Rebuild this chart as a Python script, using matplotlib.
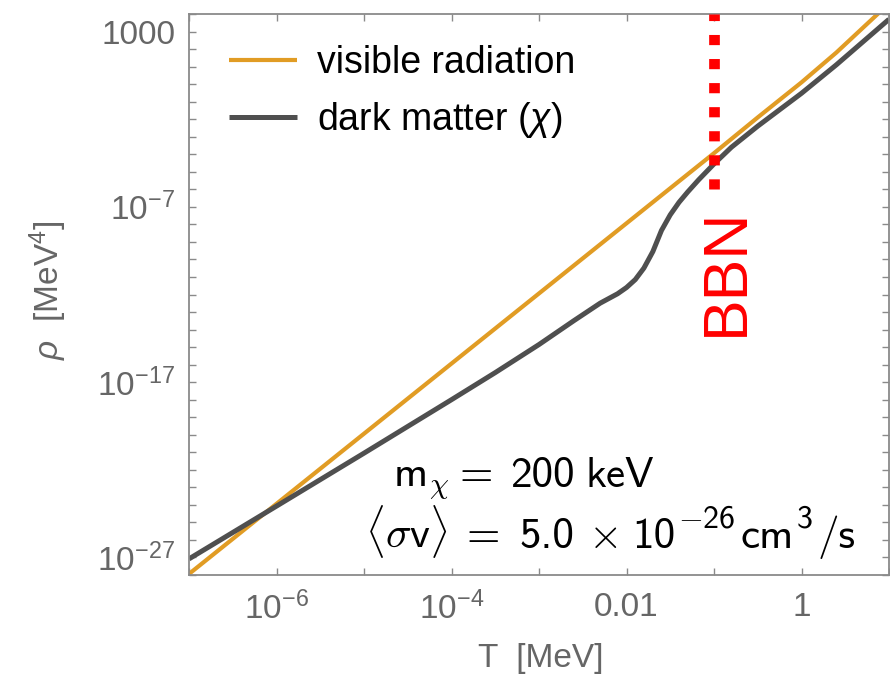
import numpy as np
import matplotlib
matplotlib.use('Agg')
import matplotlib.pyplot as plt
from matplotlib.ticker import FixedLocator, FixedFormatter, NullLocator

plt.rcParams['font.family'] = ['Liberation Sans', 'DejaVu Sans']
plt.rcParams['mathtext.fontset'] = 'custom'
plt.rcParams['mathtext.rm'] = 'Liberation Sans'
plt.rcParams['mathtext.it'] = 'Liberation Sans:italic'
plt.rcParams['mathtext.bf'] = 'Liberation Sans:bold'

# radiacao visivel
T_vis = [1e-7, 1e-4, 0.1, 0.316, 1.0, 2.5, 10.0]
rho_vis = [1.15e-28, 1.15e-16, 1.15e-4, 1.26e-2, 1.26, 63.0, 4.0e4]

# materia escura (chi)
T_dm = [1e-7, 1e-6, 1e-5, 1e-4, 3.16e-4, 1e-3, 2.5e-3, 5.0e-3, 7.9e-3, 0.01,
        0.0126, 0.0158, 0.02, 0.0251, 0.0316, 0.0398, 0.0501, 0.0668, 0.1,
        0.158, 0.316, 1.0, 2.5, 10.0]
rho_dm = [8.3e-28, 8.5e-25, 8.9e-22, 1.0e-18, 3.5e-17, 1.4e-15, 3.2e-14, 3.2e-13,
          1.1e-12, 2.5e-12, 7.1e-12, 3.2e-11, 2.8e-10, 4.5e-9, 3.5e-8, 1.8e-7,
          7.1e-7, 3.5e-6, 2.8e-5, 2.5e-4, 4.0e-3, 0.3, 12.6, 5.0e3]

# linha BBN
T_bbn = 0.1
rho_bbn = [1e-6, 1e4]

x_ticks = [1e-7, 1e-6, 1e-5, 1e-4, 1e-3, 1e-2, 1e-1, 1, 10]
x_labels = ['', r'$10^{-6}$', '', r'$10^{-4}$', '', '0.01', '', '1', '']
y_ticks = [10.0**k for k in range(-28, 5)]
y_labeled = {3: '1000', -7: r'$10^{-7}$', -17: r'$10^{-17}$', -27: r'$10^{-27}$'}

# parametros do modelo (texto no grafico)
m_chi = '200'
sigma_v = '5.0'
sigma_v_exp = '26'


def escreve_linha(fig, x0, y0, pedacos):
    # escreve os pedacos um apos o outro; (texto, espaco antes em px, subida em px, tamanho)
    W, H = fig.bbox.width, fig.bbox.height
    r = fig.canvas.get_renderer()
    x = x0
    for txt, gap, sobe, tam in pedacos:
        x += gap
        t = fig.text(x/W, 1-(y0-sobe)/H, txt, fontsize=tam, family='cmss10',
                     math_fontfamily='cm', ha='left', va='baseline')
        x = t.get_window_extent(r).x1


def main():
    W, H = 890, 697
    fig = plt.figure(figsize=(W/100, H/100), dpi=100)
    ax = fig.add_axes([189/W, 1-575/H, 700/W, 561/H])

    cor_vis = '#e19c24'
    cor_dm = '#4f4f4f'
    ax.plot(T_vis, rho_vis, color=cor_vis, lw=3.0, label='visible radiation',
            solid_capstyle='butt')
    ax.plot(T_dm, rho_dm, color=cor_dm, lw=3.6, label=r'dark matter ($\chi$)',
            solid_capstyle='butt')
    ax.plot([T_bbn, T_bbn], rho_bbn, color='#ff0000', lw=7.7,
            linestyle=(0, (0.95, 1.3)), dash_capstyle='butt', zorder=5)

    ax.set_xscale('log')
    ax.set_yscale('log')
    ax.set_xlim(1e-7, 10)
    ax.set_ylim(1e-28, 1e4)

    #Ticks no estilo Mathematica
    ax.xaxis.set_major_locator(FixedLocator(x_ticks))
    ax.xaxis.set_major_formatter(FixedFormatter(x_labels))
    ax.xaxis.set_minor_locator(NullLocator())
    ax.yaxis.set_major_locator(FixedLocator(y_ticks))
    ax.yaxis.set_major_formatter(FixedFormatter(
        [y_labeled.get(k, '') for k in range(-28, 5)]))
    ax.yaxis.set_minor_locator(NullLocator())
    ax.tick_params(which='both', direction='in', length=5, width=1.0,
                   color='#8a8a8a', labelcolor='#666666', labelsize=24,
                   top=True, right=True)
    ax.tick_params(axis='x', pad=12)
    ax.tick_params(axis='y', pad=10)
    for s in ax.spines.values():
        s.set_color('#8a8a8a')
        s.set_linewidth(1.3)

    #Rotulos dos eixos
    fig.text(541/W, 1-659/H, 'T  [MeV]', fontsize=24, color='#666666',
             ha='center', va='center')
    fig.text(48/W, 1-290/H, r'$\rho$  [MeV$^4$]', fontsize=24, color='#666666',
             ha='center', va='center', rotation=90)

    #Legenda
    fig.legend(loc='upper left', bbox_to_anchor=(229/W, 1-45/H), frameon=False,
               fontsize=27, handlelength=1.8, handletextpad=0.55,
               labelspacing=0.5, borderaxespad=0, borderpad=0)

    fig.text(726/W, 1-272/H, 'BBN', fontsize=45, color='#ff0000',
             ha='center', va='center', rotation=90)

    #Texto dos parametros (fonte sans do LaTeX)
    escreve_linha(fig, 393, 487, [
        (r'm$_{\chi}$', 0, 0, 31),
        ('=', 11, 0, 31),
        (m_chi, 17, 0, 31),
        ('keV', 11, 0, 31),
    ])
    escreve_linha(fig, 365, 548, [
        (r'$\langle\sigma$v$\rangle$', 0, 0, 31),
        ('=', 19, 0, 31),
        (sigma_v, 19, 0, 31),
        (r'$\times$', 14, 0, 31),
        ('10', 15, 0, 31),
        (r'$-$' + sigma_v_exp, 3, 21, 23),
        ('cm', 5, 0, 31),
        ('3', 3, 21, 23),
        ('/s', 5, 0, 31),
    ])

    plt.savefig('out.png', dpi=100)


if __name__ == "__main__":
    main()
